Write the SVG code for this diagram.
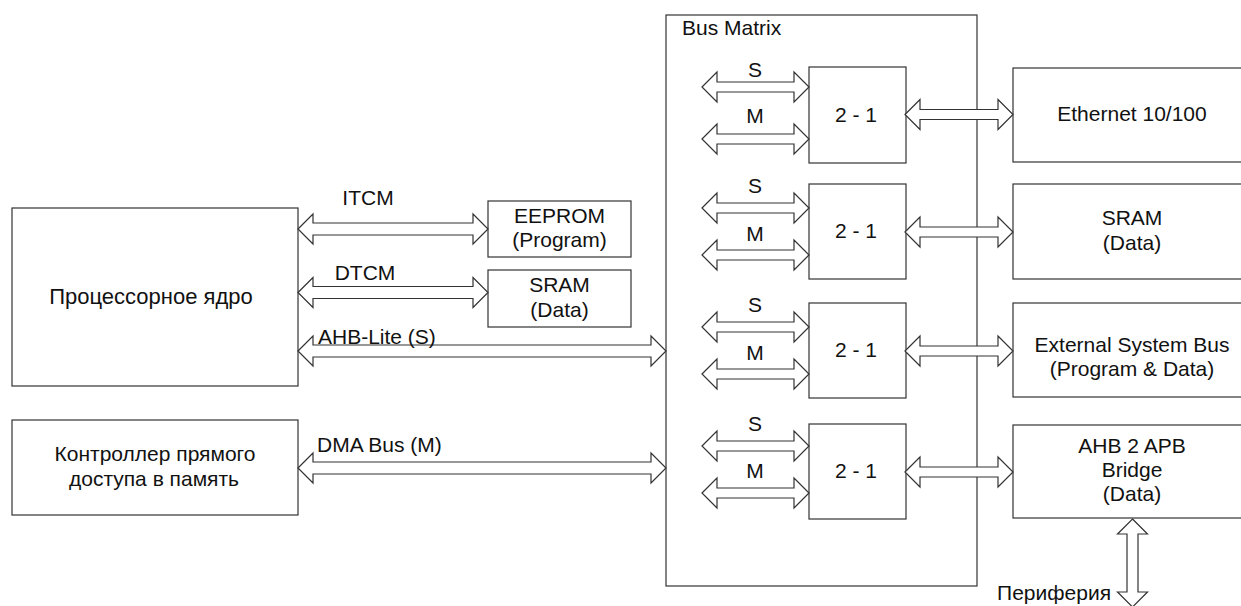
<svg xmlns="http://www.w3.org/2000/svg" width="1241" height="606" viewBox="0 0 1241 606">
<style>
.box{fill:#fff;stroke:#333;stroke-width:1.2}
.arr{fill:#fff;stroke:#333;stroke-width:1.2;stroke-linejoin:miter}
text{font-family:"Liberation Sans",Arial,sans-serif;font-size:21px;fill:#111}
.c{text-anchor:middle}
.big{font-size:22px}
</style>
<rect width="1241" height="606" fill="#fff"/>
<g id="bus-matrix"><rect class="box" x="666" y="15" width="311" height="571"/><text x="682" y="35">Bus Matrix</text></g>
<g id="cpu"><rect class="box" x="12" y="208" width="286" height="178"/><text class="c big" x="151" y="304">Процессорное ядро</text></g>
<g id="dma"><rect class="box" x="12" y="420" width="286" height="95"/><text class="c" x="155" y="461">Контроллер прямого</text><text class="c" x="154" y="486">доступа в память</text></g>
<g id="eeprom"><rect class="box" x="488" y="201" width="143" height="56"/><text class="c" x="559.5" y="223">EEPROM</text><text class="c" x="559.5" y="247">(Program)</text></g>
<g id="sram-tcm"><rect class="box" x="488" y="270" width="143" height="57"/><text class="c" x="559.5" y="292">SRAM</text><text class="c" x="559.5" y="317">(Data)</text></g>
<g id="mux1"><rect class="box" x="809" y="67" width="97" height="96"/><text class="c" x="856" y="122">2 - 1</text></g>
<g id="mux2"><rect class="box" x="809" y="184" width="97" height="95"/><text class="c" x="856" y="238">2 - 1</text></g>
<g id="mux3"><rect class="box" x="809" y="303" width="97" height="95"/><text class="c" x="856" y="357">2 - 1</text></g>
<g id="mux4"><rect class="box" x="809" y="424" width="97" height="95"/><text class="c" x="856" y="478">2 - 1</text></g>
<g id="ethernet"><rect class="box" x="1013" y="68" width="240" height="94"/><text class="c" x="1132" y="121">Ethernet 10/100</text></g>
<g id="sram-data"><rect class="box" x="1013" y="184" width="240" height="95"/><text class="c" x="1132" y="225">SRAM</text><text class="c" x="1132" y="250">(Data)</text></g>
<g id="ext-bus"><rect class="box" x="1013" y="303" width="240" height="94"/><text class="c" x="1132" y="352">External System Bus</text><text class="c" x="1132" y="376">(Program &amp; Data)</text></g>
<g id="ahb-apb"><rect class="box" x="1013" y="425" width="240" height="93"/><text class="c" x="1132" y="453">AHB 2 APB</text><text class="c" x="1132" y="477">Bridge</text><text class="c" x="1132" y="501">(Data)</text></g>
<g id="connectors">
<path class="arr" d="M298,229 L313,214 L313,223 L473,223 L473,214 L488,229 L473,244 L473,235 L313,235 L313,244 Z"/>
<path class="arr" d="M298,292.5 L313,277.5 L313,286.5 L473,286.5 L473,277.5 L488,292.5 L473,307.5 L473,298.5 L313,298.5 L313,307.5 Z"/>
<path class="arr" d="M298,351 L313,336 L313,345 L651,345 L651,336 L666,351 L651,366 L651,357 L313,357 L313,366 Z"/>
<path class="arr" d="M298,468 L313,453 L313,462 L651,462 L651,453 L666,468 L651,483 L651,474 L313,474 L313,483 Z"/>
<path class="arr" d="M702,87 L717,72 L717,82 L794,82 L794,72 L809,87 L794,102 L794,92 L717,92 L717,102 Z"/>
<path class="arr" d="M702,139 L717,124 L717,134 L794,134 L794,124 L809,139 L794,154 L794,144 L717,144 L717,154 Z"/>
<path class="arr" d="M905,114.5 L920,99.5 L920,109.5 L998,109.5 L998,99.5 L1013,114.5 L998,129.5 L998,119.5 L920,119.5 L920,129.5 Z"/>
<path class="arr" d="M702,208 L717,193 L717,203 L794,203 L794,193 L809,208 L794,223 L794,213 L717,213 L717,223 Z"/>
<path class="arr" d="M702,255 L717,240 L717,250 L794,250 L794,240 L809,255 L794,270 L794,260 L717,260 L717,270 Z"/>
<path class="arr" d="M905,232 L920,217 L920,227 L998,227 L998,217 L1013,232 L998,247 L998,237 L920,237 L920,247 Z"/>
<path class="arr" d="M702,327 L717,312 L717,322 L794,322 L794,312 L809,327 L794,342 L794,332 L717,332 L717,342 Z"/>
<path class="arr" d="M702,374 L717,359 L717,369 L794,369 L794,359 L809,374 L794,389 L794,379 L717,379 L717,389 Z"/>
<path class="arr" d="M905,351 L920,336 L920,346 L998,346 L998,336 L1013,351 L998,366 L998,356 L920,356 L920,366 Z"/>
<path class="arr" d="M702,446 L717,431 L717,441 L794,441 L794,431 L809,446 L794,461 L794,451 L717,451 L717,461 Z"/>
<path class="arr" d="M702,493 L717,478 L717,488 L794,488 L794,478 L809,493 L794,508 L794,498 L717,498 L717,508 Z"/>
<path class="arr" d="M905,472 L920,457 L920,467 L998,467 L998,457 L1013,472 L998,487 L998,477 L920,477 L920,487 Z"/>
<path class="arr" d="M1132.5,519 L1147.5,534 L1138,534 L1138,592 L1147.5,592 L1132.5,607 L1117.5,592 L1127,592 L1127,534 L1117.5,534 Z"/>
<text class="c" x="368" y="205">ITCM</text>
<text class="c" x="365" y="280">DTCM</text>
<text x="318" y="344">AHB-Lite (S)</text>
<text x="317" y="452">DMA Bus (M)</text>
<text class="c" x="755" y="77">S</text>
<text class="c" x="755" y="123">M</text>
<text class="c" x="755" y="193">S</text>
<text class="c" x="755" y="241">M</text>
<text class="c" x="755" y="312">S</text>
<text class="c" x="755" y="360">M</text>
<text class="c" x="755" y="431">S</text>
<text class="c" x="755" y="478">M</text>
<text text-anchor="end" x="1111" y="600">Периферия</text>
</g>
</svg>
